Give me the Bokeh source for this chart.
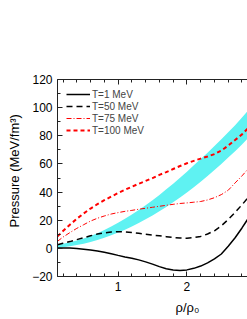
from bokeh.plotting import figure
from bokeh.models import Range1d, LinearAxis, SingleIntervalTicker, Legend, LegendItem, Title
from bokeh.embed import file_html
from bokeh.resources import INLINE

# density rho/rho0
rho = [0.12, 0.2, 0.3, 0.4, 0.5, 0.6, 0.7, 0.8, 0.9, 1.0, 1.1, 1.2, 1.3, 1.4, 1.5,
       1.6, 1.7, 1.8, 1.9, 2.0, 2.1, 2.2, 2.3, 2.4, 2.5, 2.6, 2.7, 2.8, 2.88]

p_T1 = [0.3, 0.3, 0.2, -0.1, -0.6, -1.2, -1.9, -2.8, -3.8, -5.0, -6.1, -7.0, -8.2, -9.6, -11.2,
        -13.0, -14.5, -15.4, -15.7, -15.3, -14.2, -12.6, -10.3, -7.5, -4.0, 1.5, 7.5, 14.5, 20.5]

p_T50 = [2.5, 3.6, 4.8, 6.2, 7.6, 8.9, 10.2, 11.0, 11.6, 11.8, 11.7, 11.3, 10.7, 10.1, 9.5,
         8.9, 8.3, 7.7, 7.3, 7.2, 7.6, 8.5, 10.2, 12.5, 16.0, 20.5, 25.5, 31.0, 35.5]

p_T75 = [5.0, 8.0, 11.2, 14.2, 16.8, 19.4, 21.4, 23.0, 24.4, 25.4, 26.3, 27.0, 27.8, 28.5, 29.2,
         29.9, 30.6, 31.3, 31.9, 32.3, 32.8, 33.3, 34.4, 36.0, 38.2, 41.3, 46.5, 51.5, 56.0]

p_T100 = [8.5, 12.3, 16.8, 21.0, 24.8, 28.3, 31.4, 34.2, 36.8, 39.3, 41.6, 43.8, 45.9, 47.9, 49.9,
          52.2, 54.2, 56.4, 58.5, 60.5, 62.2, 63.8, 65.3, 67.0, 69.5, 73.0, 77.0, 81.0, 85.0]

band_upper = [2.5, 3.3, 4.3, 5.5, 7.0, 8.8, 10.8, 13.0, 15.5, 18.2, 21.0, 24.0, 27.2, 30.6, 34.2,
              38.0, 42.0, 46.0, 50.2, 54.5, 59.0, 63.5, 68.0, 72.8, 77.6, 82.5, 87.5, 93.0, 97.5]
band_lower = [0.3, 0.8, 1.5, 2.3, 3.3, 4.5, 5.9, 7.5, 9.3, 11.2, 13.3, 15.6, 18.0, 20.6, 23.4,
              26.3, 29.4, 32.7, 36.1, 39.7, 43.5, 47.4, 51.5, 55.7, 60.0, 64.5, 69.0, 73.8, 78.0]

labels = ["T=1 MeV", "T=50 MeV", "T=75 MeV", "T=100 MeV"]
x_title = "ρ/ρ₀"
y_title = "Pressure (MeV/fm³)"

FONT = "Liberation Sans"

p = figure(width=247, height=319, x_range=Range1d(0.12, 2.88), y_range=Range1d(-20, 120),
           output_backend="svg", toolbar_location=None, x_axis_type=None, y_axis_type=None,
           min_border_left=55, min_border_right=0, min_border_top=79, min_border_bottom=43)
p.outline_line_color = None
p.background_fill_color = "white"
p.border_fill_color = "white"


def style_axis(ax, show_labels=True):
    ax.axis_line_color = "#222222"
    ax.axis_line_width = 1
    ax.major_tick_in = 5
    ax.major_tick_out = 0
    ax.minor_tick_in = 3
    ax.minor_tick_out = 0
    ax.major_tick_line_color = "#222222"
    ax.minor_tick_line_color = "#222222"
    ax.major_label_text_font = FONT
    ax.major_label_text_font_size = "12px"
    ax.major_label_text_color = "black" if show_labels else None
    ax.major_label_standoff = 5


xb = LinearAxis(ticker=SingleIntervalTicker(interval=1, num_minor_ticks=5))
style_axis(xb)
p.add_layout(xb, "below")
xt = LinearAxis(ticker=SingleIntervalTicker(interval=1, num_minor_ticks=5))
style_axis(xt, show_labels=False)
p.add_layout(xt, "above")
yl = LinearAxis(ticker=SingleIntervalTicker(interval=20, num_minor_ticks=2))
style_axis(yl)
p.add_layout(yl, "left")

p.add_layout(Title(text=y_title, align="left", offset=49, vertical_align="top", standoff=12,
                   text_font=FONT, text_font_size="13px", text_font_style="normal",
                   text_color="black"), "left")
p.add_layout(Title(text=x_title, align="left", offset=118, vertical_align="bottom", standoff=8,
                   text_font=FONT, text_font_size="13px", text_font_style="normal",
                   text_color="black"), "below")

p.varea(x=rho, y1=band_lower, y2=band_upper, fill_color="#5FF2F2", fill_alpha=1.0)

r1 = p.line(rho, p_T1, line_color="black", line_width=1.5)
r2 = p.line(rho, p_T50, line_color="black", line_width=1.5, line_dash="6 4")
r3 = p.line(rho, p_T75, line_color="red", line_width=1, line_dash="5 2 1 2")
r4 = p.line(rho, p_T100, line_color="red", line_width=2, line_dash="4 3")

legend = Legend(items=[LegendItem(label=labels[0], renderers=[r1]),
                       LegendItem(label=labels[1], renderers=[r2]),
                       LegendItem(label=labels[2], renderers=[r3]),
                       LegendItem(label=labels[3], renderers=[r4])],
                location="top_left", margin=9, padding=10, spacing=0,
                glyph_width=24, glyph_height=12, label_height=12, label_standoff=2,
                label_text_font=FONT, label_text_font_size="10px",
                border_line_color=None, background_fill_alpha=0)
p.add_layout(legend)

open("out.html", "w").write(file_html(p, INLINE))
